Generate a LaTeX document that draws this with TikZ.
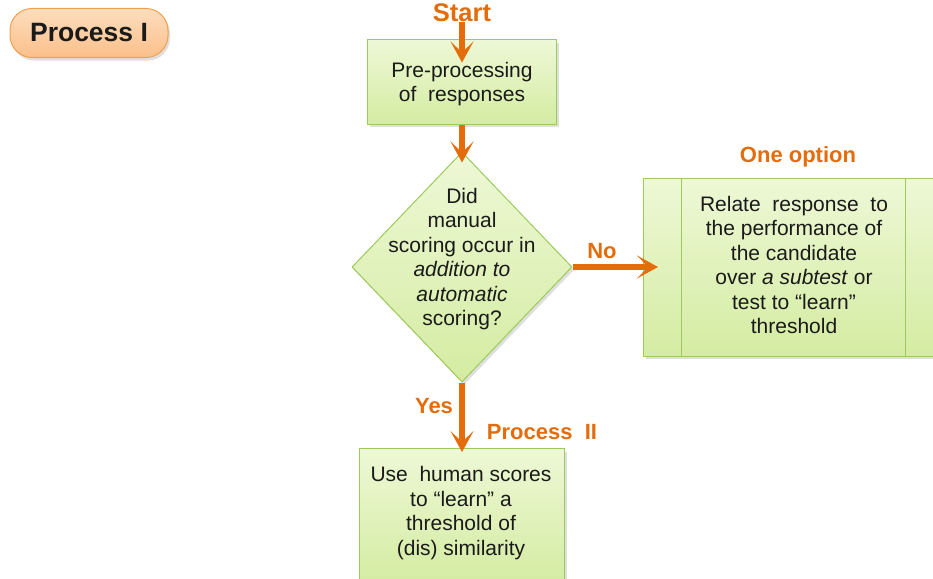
\documentclass[tikz,border=0pt]{standalone}
\usepackage{fontspec}
\setmainfont{Liberation Sans}
\usetikzlibrary{shapes.geometric,arrows.meta,shadows}
\definecolor{arrowor}{HTML}{E46C0A}
\definecolor{boxline}{HTML}{9BCB5B}
\definecolor{boxtop}{HTML}{EEF8D6}
\definecolor{boxbot}{HTML}{D4ECA2}
\definecolor{badgeline}{HTML}{F0A04E}
\definecolor{badgetop}{HTML}{FDDDBD}
\definecolor{badgebot}{HTML}{FBC08A}
\definecolor{txt}{HTML}{1A1A1A}
\begin{document}
\begin{tikzpicture}[x=1pt,y=-1pt,
  greenbox/.style={draw=boxline,line width=1pt,top color=boxtop,bottom color=boxbot,
    drop shadow={opacity=0.25,shadow xshift=2pt,shadow yshift=-3pt}},
  bodytext/.style={text=txt,font=\fontsize{21}{24.5}\selectfont,align=center,inner sep=0pt},
  orlabel/.style={text=arrowor,font=\bfseries\fontsize{22}{26}\selectfont,inner sep=0pt},
  flow/.style={draw=arrowor,line width=5.5pt,-{Stealth[width=23pt,length=21pt,inset=11pt]}}
]
\useasboundingbox (0,0) rectangle (933,578);
% badge
\node[draw=badgeline,line width=1pt,top color=badgetop,bottom color=badgebot,
  rounded corners=22pt,minimum width=158pt,minimum height=49pt,
  drop shadow={opacity=0.25,shadow xshift=2pt,shadow yshift=-3pt},
  font=\bfseries\fontsize{26.5}{30}\selectfont,text=txt] (badge) at (89,33) {Process I};
% start
\node[orlabel,font=\bfseries\fontsize{25.5}{28}\selectfont] (start) at (462,13) {Start};
% box 1
\node[greenbox,minimum width=189pt,minimum height=84pt] (b1) at (462,82) {};
\node[bodytext] (b1t) at (462,84) {Pre-processing\\of~ responses};
% diamond
\node[greenbox,diamond,minimum width=220pt,minimum height=230pt,inner sep=0pt] (d) at (462,267) {};
\node[bodytext] (dt) at (462,259) {Did\\manual\\scoring occur in\\\textit{addition to}\\\textit{automatic}\\scoring?};
% right box
\node[greenbox,minimum width=300pt,minimum height=178pt,anchor=west] (rb) at (643,267) {};
\draw[boxline,line width=1pt] (681,178) -- (681,356) (905,178) -- (905,356);
\node[bodytext] (rbt) at (794,265) {Relate~ response~ to\\the performance of\\the candidate\\over \textit{a subtest} or\\test to “learn”\\threshold};
\node[orlabel] (opt) at (798,157) {One option};
% bottom box
\node[greenbox,minimum width=205pt,minimum height=134pt,anchor=north] (b3) at (462,448) {};
\node[bodytext] (b3t) at (461,513) {Use~ human scores\\to “learn” a\\threshold of\\(dis) similarity};
% arrows
\draw[flow,shorten >=-23pt] (start.south) -- (b1.north);
\draw[flow,shorten >=-11pt] (b1.south) -- (d.north);
\draw[flow,shorten >=-15pt] (d.east) -- (rb.west);
\draw[flow,shorten >=-4pt] (d.south) -- (b3.north);
% labels
\node[orlabel] (no) at (602,251) {No};
\node[orlabel] (yes) at (434,406) {Yes};
\node[orlabel] (p2) at (542,432) {Process~ II};
\end{tikzpicture}
\end{document}
